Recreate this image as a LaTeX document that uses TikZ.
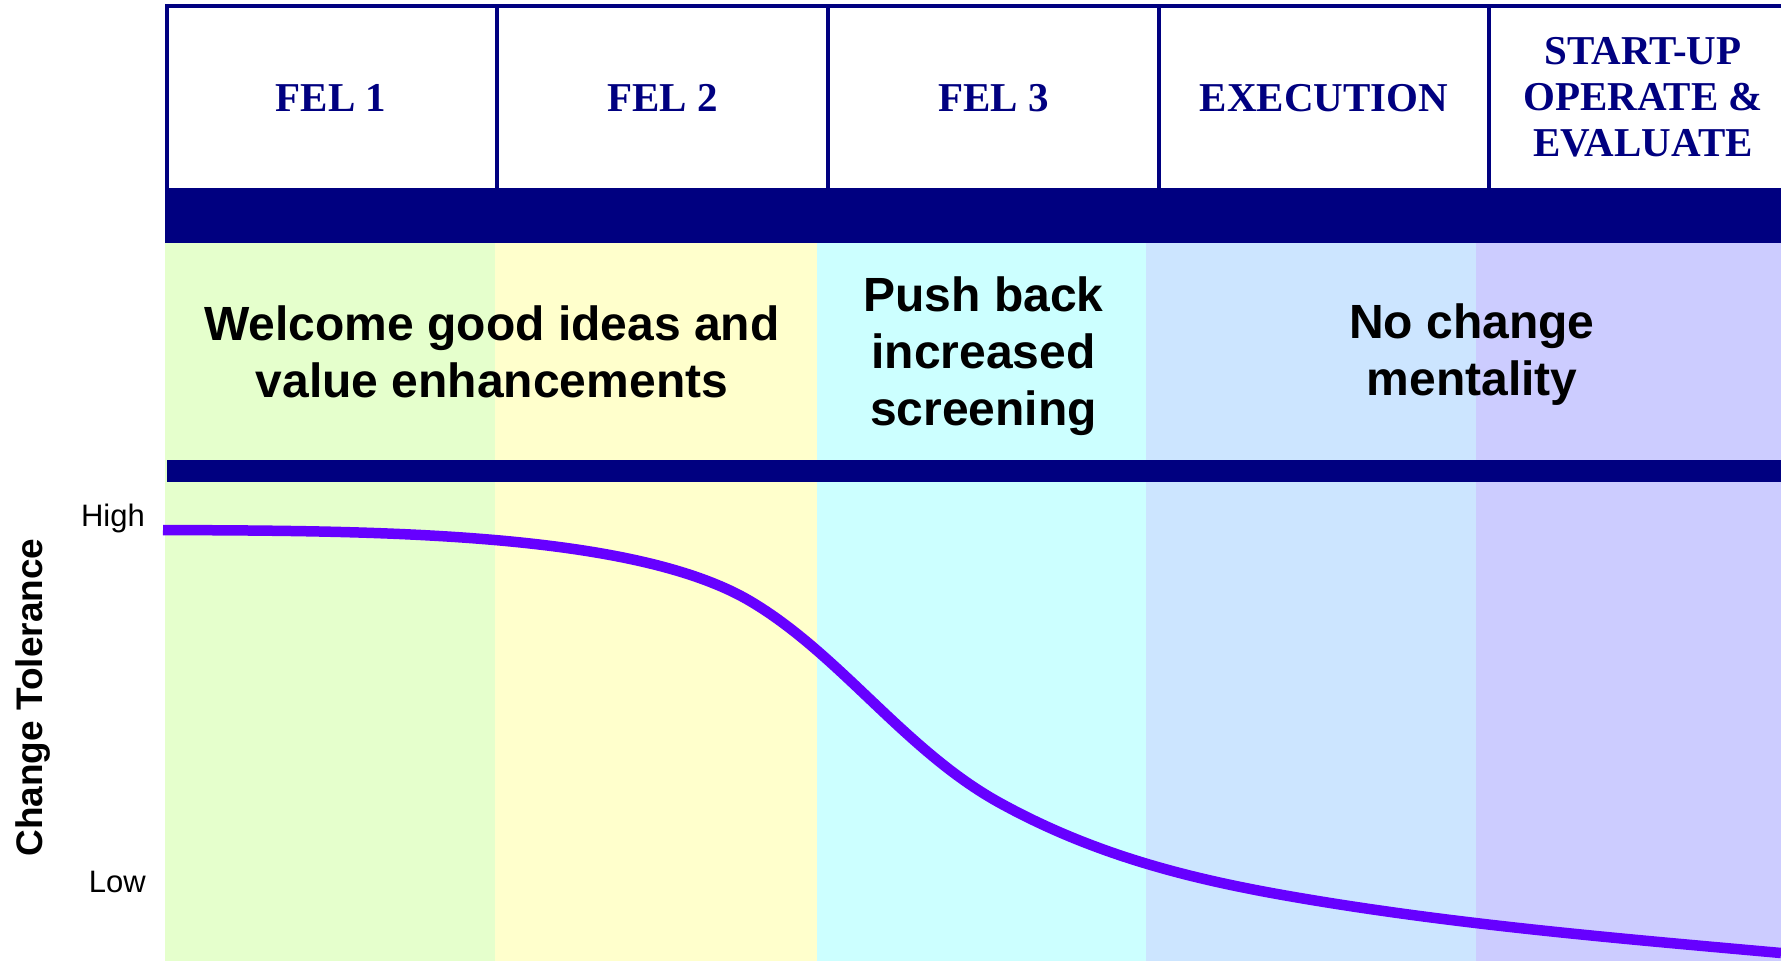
\documentclass[tikz,border=0pt]{standalone}
\usepackage{fontspec}
\setmainfont{Liberation Serif}
\newfontfamily\arialfont{Liberation Sans}
\definecolor{navy}{HTML}{000080}
\definecolor{bandgreen}{HTML}{E5FFCC}
\definecolor{bandyellow}{HTML}{FFFFCC}
\definecolor{bandcyan}{HTML}{CCFFFF}
\definecolor{bandblue}{HTML}{CCE5FF}
\definecolor{bandviolet}{HTML}{CCCCFF}
\definecolor{curveviolet}{HTML}{6600FF}
\begin{document}
\begin{tikzpicture}[x=1pt,y=-1pt,
  frameline/.style={draw=navy, line width=4.5pt},
  phase/.style={text=navy, font=\bfseries\fontsize{41}{46}\selectfont, align=center, inner sep=0pt},
  mindset/.style={font=\arialfont\bfseries\fontsize{48}{57}\selectfont, align=center, inner sep=0pt},
  level/.style={font=\arialfont\fontsize{31}{36}\selectfont, inner sep=0pt},
  axistitle/.style={font=\arialfont\bfseries\fontsize{37}{42}\selectfont, inner sep=0pt, rotate=90},
  tolerance/.style={draw=curveviolet, line width=10.5pt}
]
\useasboundingbox (0,0) rectangle (1781,961);
\clip (0,0) rectangle (1781,961);

% coloured phase bands
\fill[bandgreen]  (165,243) rectangle (495,961);
\fill[bandyellow] (495,243) rectangle (817,961);
\fill[bandcyan]   (817,243) rectangle (1146,961);
\fill[bandblue]   (1146,243) rectangle (1476,961);
\fill[bandviolet] (1476,243) rectangle (1781,961);

% header cells
\fill[white] (167,6) rectangle (1840,188);
\draw[frameline] (167,188) -- (167,6) -- (1840,6);
\foreach \xd in {497,828,1159,1489} \draw[frameline] (\xd,6) -- (\xd,188);

% dark bars
\fill[navy] (165,188) rectangle (1781,243);
\fill[navy] (167,460) rectangle (1781,482);

% phase titles
\node[phase] (fel1) at (331,98) {FEL 1};
\node[phase] (fel2) at (662.5,98) {FEL 2};
\node[phase] (fel3) at (993.5,98) {FEL 3};
\node[phase] (exec) at (1324,98) {EXECUTION};
\node[phase] (startup) at (1643,97.3) {START-UP\\OPERATE \&\\EVALUATE};

% attitude in each stage
\node[mindset] (welcome) at (492,351.5) {Welcome good ideas and\\value enhancements};
\node[mindset] (pushback) at (983.5,356.3) {Push back\\increased\\screening};
\node[mindset] (nochange) at (1472,354.3) {No change\\mentality};

% axis
\node[level, anchor=base east] (high) at (145,526) {High};
\node[level, anchor=base east] (low) at (146,892) {Low};
\node[axistitle] (axis) at (33,697.5) {Change Tolerance};

% tolerance curve: piecewise cubic with matching tangents
\coordinate (c0) at (163,530);
\coordinate (c1) at (750,601);
\coordinate (c2) at (1000,803);
\coordinate (c3) at (1300,898);
\coordinate (c4) at (1781,953);
\draw[tolerance] (c0)
  .. controls (363,531) and (630,530.2) .. (c1)
  .. controls (840,654.1) and (905,750.8) .. (c2)
  .. controls (1100,858) and (1200,881) .. (c3)
  .. controls (1460,925.2) and (1621,938.6) .. (c4);
\end{tikzpicture}
\end{document}
